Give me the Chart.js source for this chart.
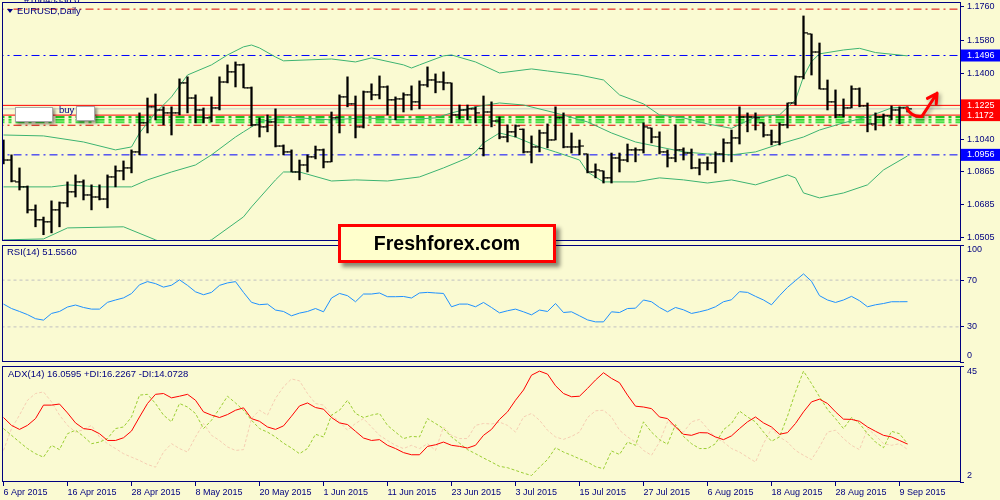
<!DOCTYPE html>
<html lang="en">
<head>
  <meta charset="UTF-8" />
  <title>EURUSD Daily</title>
  <script src="https://cdn.jsdelivr.net/npm/chart.js"></script>
  <style>
    body {
      margin: 0;
      width: 1000px;
      height: 500px;
      overflow: hidden;
      position: relative;
      background: #fafad2;
      font-family: 'Liberation Sans', Arial, sans-serif;
    }
    canvas { position: absolute; left: 0; }
    #mainChart { top: 0; }
    #rsiChart { top: 243px; }
    #adxChart { top: 363px; }
    .lbl {
      position: absolute;
      color: #000080;
      font-size: 9.5px;
      line-height: 12px;
      white-space: nowrap;
    }
    .tri {
      display: inline-block;
      width: 0; height: 0;
      border-left: 3px solid transparent;
      border-right: 3px solid transparent;
      border-top: 4px solid #000080;
      margin-right: 4px;
      vertical-align: 1px;
    }
    .wbox {
      position: absolute;
      background: #fff;
      border: 1px solid #a8a8a8;
      box-sizing: border-box;
      box-shadow: 2px 2px 3px rgba(0,0,0,0.45);
    }
    #brand {
      position: absolute;
      left: 338px; top: 224px;
      width: 218px; height: 39px;
      box-sizing: border-box;
      border: 3px solid #ff0000;
      background: #ffffcc;
      box-shadow: 4px 4px 4px rgba(0,0,0,0.45);
      font: bold 19.5px 'Liberation Sans', Arial, sans-serif;
      color: #000;
      text-align: center;
      line-height: 33px;
    }
  </style>
</head>
<body>
  <canvas id="mainChart" width="1000" height="243"></canvas>
  <canvas id="rsiChart" width="1000" height="120"></canvas>
  <canvas id="adxChart" width="1000" height="137"></canvas>

  <div class="lbl" style="left:24px;top:-6px;">#16845338 0</div>
  <div class="lbl" style="left:7px;top:5px;"><span class="tri"></span>EURUSD,Daily</div>
  <div class="wbox" style="left:15px;top:107px;width:38px;height:15px;"></div>
  <div class="lbl" style="left:59px;top:104px;">buy</div>
  <div class="wbox" style="left:76px;top:106px;width:19px;height:15px;"></div>
  <div class="lbl" style="left:7px;top:246px;">RSI(14) 51.5560</div>
  <div class="lbl" style="left:8px;top:368px;">ADX(14) 16.0595 +DI:16.2267 -DI:14.0728</div>
  <div id="brand">Freshforex.com</div>

  <script>
    // daily bars, 6 Apr 2015 .. 10 Sep 2015 (index 0..113)
    const opens = [1.0990,1.0928,1.0809,1.0782,1.0657,1.0603,1.0592,1.0657,1.0695,1.0755,
      1.0809,1.0738,1.0727,1.0716,1.0836,1.0869,1.0885,1.0972,1.1130,1.1217,
      1.1200,1.1184,1.1184,1.1347,1.1265,1.1200,1.1157,1.1211,1.1352,1.1407,
      1.1445,1.1320,1.1119,1.1108,1.1135,1.1004,1.0972,1.0863,1.0901,1.0945,
      1.0983,1.0918,1.1157,1.1271,1.1233,1.1108,1.1298,1.1282,1.1325,1.1255,
      1.1260,1.1282,1.1244,1.1336,1.1363,1.1352,1.1347,1.1173,1.1200,1.1206,
      1.0990,1.1189,1.1140,1.1053,1.1081,1.1095,1.0972,1.0999,1.1075,1.1037,
      1.1157,1.0999,1.0999,1.0961,1.0863,1.0869,1.0831,1.0939,1.0928,1.0983,
      1.0983,1.1102,1.1053,1.0972,1.0939,1.0983,1.0966,1.0885,1.0912,1.0912,
      1.0961,1.1021,1.1048,1.1162,1.1162,1.1130,1.1064,1.1026,1.1119,1.1238,
      1.1380,1.1613,1.1515,1.1314,1.1244,1.1173,1.1211,1.1314,1.1222,1.1124,
      1.1162,1.1168,1.1200,1.1211];
    const highs = [1.1037,1.0956,1.0885,1.0787,1.0684,1.0618,1.0706,1.0700,1.0809,1.0847,
      1.0820,1.0793,1.0793,1.0847,1.0896,1.0923,1.0983,1.1184,1.1265,1.1287,
      1.1217,1.1217,1.1369,1.1380,1.1282,1.1211,1.1271,1.1380,1.1445,1.1461,
      1.1450,1.1325,1.1157,1.1173,1.1206,1.1010,1.0983,1.0928,1.0956,1.1004,
      1.0988,1.1189,1.1282,1.1380,1.1276,1.1303,1.1342,1.1385,1.1331,1.1271,
      1.1293,1.1331,1.1358,1.1434,1.1396,1.1407,1.1347,1.1227,1.1227,1.1217,
      1.1276,1.1244,1.1162,1.1119,1.1119,1.1097,1.1059,1.1091,1.1124,1.1217,
      1.1184,1.1075,1.1037,1.0961,1.0907,1.0869,1.0966,1.0966,1.1015,1.0994,
      1.1130,1.1102,1.1081,1.0983,1.1119,1.0994,1.0988,1.0934,1.0945,1.0972,
      1.1043,1.1091,1.1217,1.1184,1.1184,1.1130,1.1091,1.1130,1.1238,1.1385,
      1.1711,1.1613,1.1564,1.1363,1.1309,1.1260,1.1331,1.1320,1.1238,1.1184,
      1.1178,1.1222,1.1217,1.1217];
    const lows = [1.0907,1.0809,1.0765,1.0640,1.0565,1.0522,1.0532,1.0565,1.0673,1.0727,
      1.0711,1.0657,1.0711,1.0668,1.0782,1.0820,1.0858,1.0956,1.1075,1.1146,
      1.1119,1.1064,1.1173,1.1184,1.1130,1.1130,1.1135,1.1200,1.1347,1.1325,
      1.1320,1.1113,1.1053,1.1081,1.0999,1.0956,1.0863,1.0820,1.0863,1.0934,
      1.0885,1.0918,1.1075,1.1217,1.1048,1.1102,1.1255,1.1260,1.1173,1.1146,
      1.1189,1.1200,1.1206,1.1325,1.1293,1.1309,1.1130,1.1151,1.1146,1.1130,
      1.0950,1.1108,1.1043,1.1026,1.1053,1.0966,1.0912,1.0972,1.0994,1.1037,
      1.0994,1.0966,1.0956,1.0858,1.0831,1.0803,1.0803,1.0863,1.0918,1.0918,
      1.0966,1.1021,1.0961,1.0890,1.0918,1.0928,1.0880,1.0847,1.0874,1.0858,
      1.0918,1.0918,1.1015,1.1081,1.1091,1.1053,1.1010,1.1010,1.1102,1.1227,
      1.1369,1.1390,1.1314,1.1200,1.1157,1.1162,1.1211,1.1217,1.1081,1.1091,
      1.1113,1.1146,1.1124,1.1189];
    const closes = [1.0928,1.0814,1.0782,1.0657,1.0603,1.0592,1.0657,1.0695,1.0755,1.0809,
      1.0738,1.0727,1.0716,1.0836,1.0869,1.0885,1.0972,1.1130,1.1217,1.1200,
      1.1184,1.1184,1.1347,1.1265,1.1200,1.1157,1.1211,1.1352,1.1407,1.1445,
      1.1320,1.1119,1.1108,1.1135,1.1004,1.0972,1.0863,1.0901,1.0945,1.0983,
      1.0918,1.1157,1.1271,1.1233,1.1108,1.1298,1.1282,1.1325,1.1255,1.1260,
      1.1282,1.1244,1.1336,1.1363,1.1352,1.1347,1.1173,1.1200,1.1206,1.1184,
      1.1189,1.1140,1.1053,1.1081,1.1113,1.0972,1.0999,1.1075,1.1037,1.1157,
      1.0999,1.0999,1.1004,1.0863,1.0874,1.0831,1.0939,1.0928,1.0983,1.0983,
      1.1108,1.1053,1.0972,1.0939,1.0983,1.0966,1.0885,1.0912,1.0912,1.0961,
      1.1021,1.1048,1.1162,1.1162,1.1157,1.1064,1.1026,1.1119,1.1238,1.1380,
      1.1619,1.1515,1.1314,1.1244,1.1173,1.1211,1.1314,1.1222,1.1124,1.1162,
      1.1168,1.1200,1.1211,1.1206];

    // bollinger bands, read at these bar indexes
    const upperIdx = [0,5,10,14,16,17,19,21,23,26,28,30,31,32,34,35,41,44,46,50,51,52,55,56,59,62,66,68,72,75,77,80,82,85,88,91,94,97,99,100,101,102,105,107,109,113];
    const upperBand = [1.1064,1.1059,1.1026,1.0983,1.0999,1.1075,1.1184,1.1271,1.1390,1.1445,1.1499,1.1543,1.1553,1.1537,1.1488,1.1467,1.1477,1.1461,1.1483,1.1445,1.1428,1.1445,1.1494,1.1499,1.1461,1.1401,1.1423,1.1412,1.1390,1.1363,1.1282,1.1233,1.1173,1.1157,1.1124,1.1100,1.1162,1.1173,1.1255,1.1381,1.1463,1.1505,1.1526,1.1535,1.1512,1.1494];
    const middleIdx = [0,6,8,12,16,18,21,24,26,29,30,32,35,41,45,50,54,56,59,62,65,69,73,76,79,82,85,88,91,94,97,100,102,105,108,111,113];
    const middleBand = [1.0782,1.0782,1.0793,1.0782,1.0782,1.0820,1.0863,1.0901,1.0956,1.1053,1.1081,1.1135,1.1162,1.1146,1.1157,1.1146,1.1157,1.1184,1.1217,1.1238,1.1227,1.1184,1.1135,1.1075,1.1026,1.0999,1.0972,1.0961,1.0956,1.0972,1.1015,1.1053,1.1091,1.1130,1.1162,1.1211,1.1217];
    const lowerIdx = [0,5,8,15,19,22,26,30,31,34,35,37,41,44,48,52,55,58,59,60,62,64,67,69,72,73,75,79,82,85,88,91,94,98,99,100,102,105,108,110,113];
    const lowerBand = [1.0494,1.0499,1.0559,1.0565,1.0494,1.0440,1.0494,1.0619,1.0673,1.0820,1.0863,1.0863,1.0814,1.0820,1.0814,1.0836,1.0885,1.0939,1.0972,1.1021,1.1075,1.1053,1.0999,1.0972,1.0928,1.0863,1.0809,1.0809,1.0831,1.0820,1.0803,1.0820,1.0793,1.0847,1.0831,1.0749,1.0722,1.0749,1.0793,1.0874,1.0950];

    const rsi = [49.5,45.7,43.2,40.5,37.0,35.8,41.5,43.2,47.0,48.7,
      46.6,45.2,45.2,51.0,53.0,54.8,58.5,66.0,68.7,67.0,
      64.0,65.6,70.2,65.5,60.0,57.5,59.5,65.5,67.6,68.7,
      59.5,51.0,49.0,49.5,44.4,43.2,39.5,41.8,43.2,45.7,
      42.9,54.7,58.6,56.7,51.5,58.1,58.1,59.0,55.8,55.8,
      56.0,54.7,59.0,59.5,59.0,58.6,47.2,49.5,49.5,47.2,
      50.9,46.6,42.0,43.8,45.2,42.9,40.3,44.4,43.2,50.0,
      42.3,42.9,39.5,36.0,34.3,34.3,42.9,42.3,45.7,46.0,
      53.0,51.5,46.6,42.9,46.6,44.6,41.5,42.9,44.6,47.2,
      51.5,53.2,60.1,59.5,56.1,53.0,48.9,56.7,63.8,69.6,
      75.3,69.0,56.7,53.0,50.9,53.0,56.1,52.4,47.2,48.9,
      50.0,51.5,51.5,51.556];
    const adx = [25.9,23.0,21.5,23.0,25.5,30.5,30.5,30.9,27.6,23.9,
      21.8,21.4,19.9,17.4,17.4,18.4,20.9,26.1,31.1,34.5,
      34.8,33.2,33.8,34.5,32.3,28.0,26.8,25.9,27.0,28.6,
      29.5,25.5,24.5,22.4,21.5,22.8,26.4,30.2,31.3,29.6,
      29.0,25.9,23.9,23.3,20.8,18.3,17.4,17.7,15.6,14.4,
      12.9,12.1,12.1,15.2,15.8,16.8,15.6,15.2,14.6,15.6,
      19.3,21.5,25.2,28.0,32.3,36.1,41.6,43.1,42.0,37.7,
      34.8,33.6,33.8,36.7,39.8,42.5,40.4,38.8,34.2,30.1,
      29.8,29.2,26.1,25.5,22.4,19.7,19.3,20.3,20.2,18.7,
      17.7,19.1,21.8,24.3,26.1,23.9,22.4,19.7,20.3,23.7,
      28.0,31.7,32.7,31.1,28.0,25.3,25.2,24.5,22.4,20.8,
      19.3,18.7,17.4,16.06];
    const plusDI = [21.8,19.3,16.8,14.4,12.5,11.2,15.6,14.0,19.9,21.2,
      18.9,16.2,16.8,18.1,21.8,22.4,26.1,34.2,34.5,31.1,
      26.8,24.3,31.1,29.8,27.4,21.8,24.9,29.2,33.8,31.3,
      28.6,24.9,21.8,20.5,18.7,16.4,14.6,12.5,14.4,19.7,
      18.7,26.8,28.6,32.3,27.4,25.9,26.8,27.4,23.0,20.5,
      18.1,18.9,18.7,25.5,23.7,21.8,18.7,16.4,14.0,12.5,
      10.9,9.4,7.8,7.3,6.3,5.3,4.4,7.5,10.3,14.7,
      13.1,11.9,10.6,9.4,7.7,6.9,13.5,12.2,16.8,15.6,
      24.3,20.5,17.7,16.0,23.3,18.9,16.2,14.4,14.4,16.2,
      21.4,23.7,28.3,26.1,24.3,20.5,17.1,18.7,26.4,35.4,
      43.1,38.5,33.6,28.9,25.5,21.8,25.9,23.7,19.9,16.8,
      14.7,20.8,19.9,16.23];
    const minusDI = [13.7,21.8,26.8,32.3,34.8,35.4,31.7,26.8,23.0,20.5,
      21.4,23.0,18.7,16.2,14.4,12.5,11.2,10.0,8.5,7.5,
      13.1,16.2,14.4,13.1,18.7,23.7,19.3,17.4,15.0,13.7,
      14.0,25.5,28.6,26.8,33.0,37.3,40.2,39.5,34.8,31.1,
      30.5,26.8,24.3,21.2,23.7,25.5,22.4,19.3,17.4,15.6,
      14.4,15.6,14.4,16.2,13.7,22.4,19.3,18.1,18.1,23.0,
      23.7,23.5,24.2,23.0,20.5,26.1,27.4,24.9,21.2,18.7,
      17.8,18.9,20.5,25.9,28.4,28.6,26.1,21.2,18.7,16.8,
      13.7,11.9,16.8,24.3,22.4,20.5,24.3,25.2,21.8,18.4,
      16.8,14.4,13.1,11.2,9.4,16.2,21.8,18.7,16.8,13.7,
      11.9,10.3,15.0,20.5,21.2,18.1,15.6,14.0,21.8,19.3,
      16.2,15.6,16.2,14.07];

    const labelBars = [0,8,16,24,32,40,48,56,64,72,80,88,96,104,112];
    const dateLabels = ['6 Apr 2015','16 Apr 2015','28 Apr 2015','8 May 2015','20 May 2015','1 Jun 2015',
      '11 Jun 2015','23 Jun 2015','3 Jul 2015','15 Jul 2015','27 Jul 2015','6 Aug 2015',
      '18 Aug 2015','28 Aug 2015','9 Sep 2015'];
    const priceTicks = [1.1760,1.1580,1.1400,1.1040,1.0865,1.0685,1.0505];

    // hand drawn arrow (bar index / price)
    const arrowBars = [112.9,113.6,114.8,116.7];
    const arrowPrices = [1.1209,1.1158,1.1165,1.1291];

    const NAVY = '#000080';
    const X_MIN = -0.1875, X_MAX = 119.5625;
    const P_MIN = 1.048785, P_MAX = 1.178676;
    Chart.defaults.font.family = "'Liberation Sans', Arial, sans-serif";
    Chart.defaults.font.size = 9;
    Chart.defaults.color = NAVY;

    const pts = arr => arr.map((v, i) => ({x: i, y: v}));

    function hLine(value, color, dash, width) {
      return { type: 'line', data: [{x: -1, y: value}, {x: 121, y: value}],
        borderColor: color, borderWidth: width || 1, borderDash: dash || [],
        pointRadius: 0, order: 3 };
    }
    function band(idx, vals) {
      return { type: 'line', data: idx.map((k, i) => ({x: k, y: vals[i]})),
        borderColor: '#3cb371', borderWidth: 1, pointRadius: 0, order: 2 };
    }
    function rightAxis(min, max, values, fmt) {
      return {
        type: 'linear', position: 'right', min: min, max: max,
        afterBuildTicks: s => { s.ticks = values.map(v => ({value: v})); },
        afterFit: s => { s.width = 40; s.paddingTop = 0; s.paddingBottom = 0; },
        ticks: { callback: fmt, padding: 3, autoSkip: false, color: NAVY },
        grid: { drawOnChartArea: false, tickLength: 4, color: NAVY, tickColor: NAVY },
        border: { display: false }
      };
    }

    const panelFrame = {
      id: 'panelFrame',
      afterDraw(chart) {
        const {ctx, chartArea: a} = chart;
        ctx.save();
        ctx.strokeStyle = NAVY;
        ctx.lineWidth = 1;
        ctx.strokeRect(a.left + 0.5, a.top + 0.5, a.right - a.left, a.bottom - a.top - 1);
        ctx.restore();
      }
    };

    function sideLabels(items) {
      return {
        id: 'sideLabels',
        afterDraw(chart) {
          const {ctx, chartArea: a} = chart;
          const y = chart.scales.y;
          ctx.save();
          ctx.font = "9px 'Liberation Sans', Arial, sans-serif";
          ctx.textBaseline = 'middle';
          items.forEach(it => {
            const py = y.getPixelForValue(it.value) + (it.dy || 0);
            if (it.bg) {
              ctx.fillStyle = it.bg;
              ctx.fillRect(a.right + 1, py - 6, 40, 12);
              ctx.fillStyle = '#fff';
            } else {
              ctx.fillStyle = NAVY;
            }
            ctx.fillText(it.text, a.right + 7, py);
          });
          ctx.restore();
        }
      };
    }

    const drawnArrow = {
      id: 'drawnArrow',
      afterDatasetsDraw(chart) {
        const {ctx} = chart;
        const {x, y} = chart.scales;
        const p = arrowBars.map((b, i) => [x.getPixelForValue(b), y.getPixelForValue(arrowPrices[i])]);
        ctx.save();
        ctx.strokeStyle = '#ff0000';
        ctx.lineWidth = 3;
        ctx.lineCap = 'round';
        ctx.lineJoin = 'round';
        ctx.shadowColor = 'rgba(0,0,0,0.35)';
        ctx.shadowBlur = 4;
        ctx.shadowOffsetX = 2;
        ctx.shadowOffsetY = 2;
        ctx.beginPath();
        ctx.moveTo(p[0][0], p[0][1]);
        ctx.quadraticCurveTo(p[1][0], p[1][1], p[2][0], p[2][1]);
        ctx.lineTo(p[3][0], p[3][1]);
        const ang = Math.atan2(p[3][1] - p[2][1], p[3][0] - p[2][0]);
        [0.5, -0.5].forEach(d => {
          ctx.moveTo(p[3][0], p[3][1]);
          ctx.lineTo(p[3][0] - 11 * Math.cos(ang + d), p[3][1] - 11 * Math.sin(ang + d));
        });
        ctx.stroke();
        ctx.restore();
      }
    };

    const common = {
      responsive: false,
      animation: false,
      devicePixelRatio: 1,
      events: [],
      plugins: { legend: { display: false }, tooltip: { enabled: false } }
    };
    const hiddenX = { type: 'linear', min: X_MIN, max: X_MAX, offset: false,
      grid: { offset: false }, display: false };

    // price panel
    new Chart(document.getElementById('mainChart'), {
      type: 'line',
      data: {
        datasets: [
          { type: 'bar', data: lows.map((l, i) => ({x: i, y: [l, highs[i]]})),
            backgroundColor: '#000', barThickness: 1.6, minBarLength: 1, order: 0 },
          { type: 'line', data: opens.map((v, i) => ({x: i - 0.3, y: v})), showLine: false,
            pointStyle: 'line', pointRadius: 2, pointBorderWidth: 1.2, pointBorderColor: '#000', order: 0 },
          { type: 'line', data: closes.map((v, i) => ({x: i + 0.3, y: v})), showLine: false,
            pointStyle: 'line', pointRadius: 2, pointBorderWidth: 1.2, pointBorderColor: '#000', order: 0 },
          band(upperIdx, upperBand),
          band(middleIdx, middleBand),
          band(lowerIdx, lowerBand),
          hLine(1.1225, '#ff0000'),
          hLine(1.1172, '#ff0000'),
          hLine(1.1206, '#c8c8c8'),
          hLine(1.1162, '#22c422', [9, 4, 3, 4], 2),
          hLine(1.1147, '#2fd62f', [9, 4, 3, 4], 2),
          hLine(1.1133, '#44e044', [9, 4, 3, 4], 2),
          hLine(1.1748, '#dd0000', [8, 4, 2, 4]),
          hLine(1.1117, '#dd0000', [8, 4, 2, 4]),
          hLine(1.1496, '#0000ff', [8, 4, 2, 4]),
          hLine(1.0956, '#0000ff', [8, 4, 2, 4])
        ]
      },
      options: Object.assign({}, common, {
        layout: { autoPadding: false, padding: { top: 2, left: 2, right: 0, bottom: 2 } },
        scales: {
          x: hiddenX,
          y: rightAxis(P_MIN, P_MAX, priceTicks, v => v.toFixed(4))
        }
      }),
      plugins: [panelFrame, drawnArrow, sideLabels([
        { value: 1.1496, text: '1.1496', bg: '#0000ff' },
        { value: 1.1225, text: '1.1225', bg: '#ff0000' },
        { value: 1.1172, text: '1.1172', bg: '#ff0000' },
        { value: 1.0956, text: '1.0956', bg: '#0000ff' }
      ])]
    });

    // RSI panel
    new Chart(document.getElementById('rsiChart'), {
      type: 'line',
      data: {
        datasets: [
          { data: pts(rsi), borderColor: '#1e90ff', borderWidth: 1, pointRadius: 0, order: 0 },
          hLine(70, '#c0c0c0', [3, 3]),
          hLine(30, '#c0c0c0', [3, 3])
        ]
      },
      options: Object.assign({}, common, {
        layout: { autoPadding: false, padding: { top: 2, left: 2, right: 0, bottom: 1 } },
        scales: {
          x: hiddenX,
          y: rightAxis(0, 100, [0, 30, 70, 100], v => (v === 30 || v === 70) ? String(v) : '')
        }
      }),
      plugins: [panelFrame, sideLabels([
        { value: 100, text: '100', dy: 5 },
        { value: 0, text: '0', dy: -6 }
      ])]
    });

    // ADX panel with the date axis
    new Chart(document.getElementById('adxChart'), {
      type: 'line',
      data: {
        datasets: [
          { data: pts(adx), borderColor: '#ff0000', borderWidth: 1, pointRadius: 0, order: 0 },
          { data: pts(plusDI), borderColor: '#9acd32', borderWidth: 1, borderDash: [3, 2], pointRadius: 0, order: 1 },
          { data: pts(minusDI), borderColor: '#f5cdb2', borderWidth: 1, borderDash: [3, 2], pointRadius: 0, order: 2 }
        ]
      },
      options: Object.assign({}, common, {
        layout: { autoPadding: false, padding: { top: 3, left: 2, right: 0, bottom: 0 } },
        scales: {
          x: {
            type: 'linear', position: 'bottom', min: X_MIN, max: X_MAX, offset: false,
            afterBuildTicks: s => { s.ticks = labelBars.map(v => ({value: v})); },
            afterFit: s => { s.height = 18; s.paddingLeft = 0; s.paddingRight = 0; },
            ticks: { callback: (v, i) => dateLabels[i], align: 'start', maxRotation: 0,
              autoSkip: false, padding: 1, color: NAVY },
            grid: { drawOnChartArea: false, offset: false, tickLength: 4, color: NAVY, tickColor: NAVY },
            border: { display: false }
          },
          y: rightAxis(2, 45, [2, 45], () => '')
        }
      }),
      plugins: [panelFrame, sideLabels([
        { value: 45, text: '45', dy: 6 },
        { value: 2, text: '2', dy: -6 }
      ])]
    });
  </script>
</body>
</html>
